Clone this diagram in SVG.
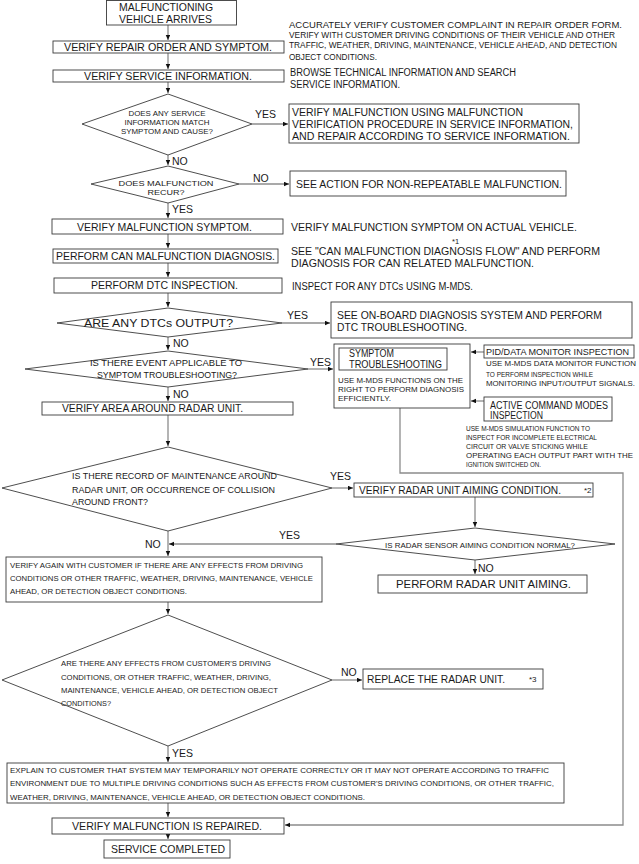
<svg xmlns="http://www.w3.org/2000/svg" width="639" height="864" viewBox="0 0 639 864">
<style>
text{font-family:"Liberation Sans",Arial,sans-serif;fill:#1a1a1a}
.m{font-size:10.5px}
.d{font-size:10px}
.c{font-size:9px}
.c2{font-size:8.2px}
.s{font-size:8px}
.t{font-size:7.5px}
.u{font-size:7px}
.l{font-size:10.5px}
.mid{text-anchor:middle}
rect,polygon{fill:#fff;stroke:#3a3a3a;stroke-width:0.9}
.cn{fill:none;stroke:#8c8c8c;stroke-width:1.3}
</style>
<defs>
<marker id="a" markerUnits="userSpaceOnUse" markerWidth="6" markerHeight="6" refX="5" refY="2.25" orient="auto">
<path d="M0,0 L5,2.25 L0,4.5 z" fill="#111"/>
</marker>
</defs>
<rect x="0" y="0" width="639" height="864" style="fill:#fff;stroke:none"/>

<g id="connectors">
<path class="cn" d="M168,25 V40" marker-end="url(#a)"/>
<path class="cn" d="M168,53 V69" marker-end="url(#a)"/>
<path class="cn" d="M168,82 V93" marker-end="url(#a)"/>
<path class="cn" d="M252,124 H288" marker-end="url(#a)"/>
<path class="cn" d="M168,155 V165" marker-end="url(#a)"/>
<path class="cn" d="M239,184 H289" marker-end="url(#a)"/>
<path class="cn" d="M168,203 V218" marker-end="url(#a)"/>
<path class="cn" d="M168,234 V248" marker-end="url(#a)"/>
<path class="cn" d="M168,263 V277" marker-end="url(#a)"/>
<path class="cn" d="M168,293 V307" marker-end="url(#a)"/>
<path class="cn" d="M282,323 H330" marker-end="url(#a)"/>
<path class="cn" d="M168,337 V350" marker-end="url(#a)"/>
<path class="cn" d="M308,369 H333" marker-end="url(#a)"/>
<path class="cn" d="M484,352 H471" marker-end="url(#a)"/>
<path class="cn" d="M484,401 H471" marker-end="url(#a)"/>
<path class="cn" d="M400,408 V473 H623 V825 H285" marker-end="url(#a)"/>
<path class="cn" d="M168,387 V401" marker-end="url(#a)"/>
<path class="cn" d="M168,415 V446" marker-end="url(#a)"/>
<path class="cn" d="M332,488 H353" marker-end="url(#a)"/>
<path class="cn" d="M475,497 V527" marker-end="url(#a)"/>
<path class="cn" d="M336,544 H169" marker-end="url(#a)"/>
<path class="cn" d="M168,531 V556" marker-end="url(#a)"/>
<path class="cn" d="M475,560 V574" marker-end="url(#a)"/>
<path class="cn" d="M168,602 V614" marker-end="url(#a)"/>
<path class="cn" d="M332,680 H362" marker-end="url(#a)"/>
<path class="cn" d="M168,746 V762" marker-end="url(#a)"/>
<path class="cn" d="M168,803 V817" marker-end="url(#a)"/>
<path class="cn" d="M168,834 V839" marker-end="url(#a)"/>
</g>

<g id="n1"><rect x="106.5" y="0.5" width="130" height="24.5"/>
<text class="m" x="119" y="11.3" textLength="94" lengthAdjust="spacingAndGlyphs">MALFUNCTIONING</text>
<text class="m" x="119" y="22.8" textLength="93" lengthAdjust="spacingAndGlyphs">VEHICLE ARRIVES</text></g>

<g id="n2"><rect x="53" y="41" width="231" height="12"/>
<text class="m" x="64" y="50.8" textLength="208" lengthAdjust="spacingAndGlyphs">VERIFY REPAIR ORDER AND SYMPTOM.</text></g>
<g id="n2d">
<text x="289" y="28.4" style="font-size:9.4px" textLength="333" lengthAdjust="spacingAndGlyphs">ACCURATELY VERIFY CUSTOMER COMPLAINT IN REPAIR ORDER FORM.</text>
<text class="c2" x="289" y="38" textLength="326" lengthAdjust="spacingAndGlyphs">VERIFY WITH CUSTOMER DRIVING CONDITIONS OF THEIR VEHICLE AND OTHER</text>
<text class="c2" x="289" y="48" textLength="328" lengthAdjust="spacingAndGlyphs">TRAFFIC, WEATHER, DRIVING, MAINTENANCE, VEHICLE AHEAD, AND DETECTION</text>
<text class="c2" x="289" y="60" textLength="88" lengthAdjust="spacingAndGlyphs">OBJECT CONDITIONS.</text></g>

<g id="n3"><rect x="53" y="70" width="231" height="12"/>
<text class="m" x="84" y="79.8" textLength="168" lengthAdjust="spacingAndGlyphs">VERIFY SERVICE INFORMATION.</text></g>
<g id="n3d">
<text class="d" x="290" y="75.6" textLength="226" lengthAdjust="spacingAndGlyphs">BROWSE TECHNICAL INFORMATION AND SEARCH</text>
<text class="d" x="290" y="87.6" textLength="110" lengthAdjust="spacingAndGlyphs">SERVICE INFORMATION.</text></g>

<g id="d1"><polygon points="168,94 252,124 168,155 82,124"/>
<text class="s mid" x="167" y="115.9" textLength="77" lengthAdjust="spacingAndGlyphs">DOES ANY SERVICE</text>
<text class="s mid" x="167" y="124.9" textLength="85" lengthAdjust="spacingAndGlyphs">INFORMATION MATCH</text>
<text class="s mid" x="167" y="133.9" textLength="92" lengthAdjust="spacingAndGlyphs">SYMPTOM AND CAUSE?</text></g>

<g id="n4"><rect x="289" y="104" width="290" height="39"/>
<text class="m" x="292" y="115.8" textLength="231" lengthAdjust="spacingAndGlyphs">VERIFY MALFUNCTION USING MALFUNCTION</text>
<text class="m" x="292" y="127.8" textLength="281" lengthAdjust="spacingAndGlyphs">VERIFICATION PROCEDURE IN SERVICE INFORMATION,</text>
<text class="m" x="292" y="139.8" textLength="278" lengthAdjust="spacingAndGlyphs">AND REPAIR ACCORDING TO SERVICE INFORMATION.</text></g>

<g id="d2"><polygon points="168,166 239,184 168,203 91,184"/>
<text class="s mid" x="166" y="185.9" textLength="95" lengthAdjust="spacingAndGlyphs">DOES MALFUNCTION</text>
<text class="s mid" x="166" y="195.4" textLength="37" lengthAdjust="spacingAndGlyphs">RECUR?</text></g>

<g id="n5"><rect x="290" y="171" width="276" height="25"/>
<text class="m" x="296" y="187.8" textLength="266" lengthAdjust="spacingAndGlyphs">SEE ACTION FOR NON-REPEATABLE MALFUNCTION.</text></g>

<g id="n6"><rect x="52" y="219" width="231" height="15"/>
<text class="m" x="77" y="230.8" textLength="175" lengthAdjust="spacingAndGlyphs">VERIFY MALFUNCTION SYMPTOM.</text></g>
<g id="n6d"><text class="m" x="291" y="230.8" textLength="286" lengthAdjust="spacingAndGlyphs">VERIFY MALFUNCTION SYMPTOM ON ACTUAL VEHICLE.</text></g>

<g id="n7"><rect x="53" y="249" width="225" height="14"/>
<text class="m" x="56" y="260.3" textLength="219" lengthAdjust="spacingAndGlyphs">PERFORM CAN MALFUNCTION DIAGNOSIS.</text></g>
<g id="n7d">
<text class="t" x="452" y="243.5">*1</text>
<text class="m" x="291" y="254.8" textLength="309" lengthAdjust="spacingAndGlyphs">SEE "CAN MALFUNCTION DIAGNOSIS FLOW" AND PERFORM</text>
<text class="m" x="291" y="266.8" textLength="243" lengthAdjust="spacingAndGlyphs">DIAGNOSIS FOR CAN RELATED MALFUNCTION.</text></g>

<g id="n8"><rect x="54" y="278" width="228" height="15"/>
<text class="m" x="91" y="288.8" textLength="147" lengthAdjust="spacingAndGlyphs">PERFORM DTC INSPECTION.</text></g>
<g id="n8d"><text class="d" x="292" y="289.6" textLength="181" lengthAdjust="spacingAndGlyphs">INSPECT FOR ANY DTCs USING M-MDS.</text></g>

<g id="d3"><polygon points="168,308 282,323 168,337 57,323"/>
<text class="m" x="84" y="326.8" textLength="149" lengthAdjust="spacingAndGlyphs">ARE ANY DTCs OUTPUT?</text></g>

<g id="n9"><rect x="331" y="302" width="301" height="36"/>
<text class="m" x="337" y="318.8" textLength="265" lengthAdjust="spacingAndGlyphs">SEE ON-BOARD DIAGNOSIS SYSTEM AND PERFORM</text>
<text class="m" x="337" y="330.8" textLength="130" lengthAdjust="spacingAndGlyphs">DTC TROUBLESHOOTING.</text></g>

<g id="d4"><polygon points="168,351 308,369 168,387 25,369"/>
<text class="c mid" x="166" y="366.2" textLength="152" lengthAdjust="spacingAndGlyphs">IS THERE EVENT APPLICABLE TO</text>
<text class="c mid" x="167" y="378.2" textLength="140" lengthAdjust="spacingAndGlyphs">SYMPTOM TROUBLESHOOTING?</text></g>

<g id="n10"><rect x="334" y="344" width="136" height="64"/>
<rect x="339" y="348" width="108" height="22"/>
<text class="d" x="349" y="356.6" textLength="45" lengthAdjust="spacingAndGlyphs">SYMPTOM</text>
<text class="d" x="349" y="367.6" textLength="93" lengthAdjust="spacingAndGlyphs">TROUBLESHOOTING</text>
<text class="t" x="338" y="382.7" textLength="125" lengthAdjust="spacingAndGlyphs">USE M-MDS FUNCTIONS ON THE</text>
<text class="t" x="338" y="391.7" textLength="126" lengthAdjust="spacingAndGlyphs">RIGHT TO PERFORM DIAGNOSIS</text>
<text class="t" x="338" y="400.7" textLength="53" lengthAdjust="spacingAndGlyphs">EFFICIENTLY.</text></g>

<g id="n11"><rect x="484" y="345" width="150" height="13"/>
<text class="c" x="486" y="355.2" textLength="143" lengthAdjust="spacingAndGlyphs">PID/DATA MONITOR INSPECTION</text>
<text class="t" x="486" y="365.7" textLength="150" lengthAdjust="spacingAndGlyphs">USE M-MDS DATA MONITOR FUNCTION</text>
<text class="t" x="486" y="376.7" textLength="107" lengthAdjust="spacingAndGlyphs">TO PERFORM INSPECTION WHILE</text>
<text class="t" x="486" y="385.7" textLength="149" lengthAdjust="spacingAndGlyphs">MONITORING INPUT/OUTPUT SIGNALS.</text></g>

<g id="n12"><rect x="484" y="397" width="128" height="24"/>
<text class="d" x="490" y="408.6" textLength="118" lengthAdjust="spacingAndGlyphs">ACTIVE COMMAND MODES</text>
<text class="d" x="490" y="418.6" textLength="53" lengthAdjust="spacingAndGlyphs">INSPECTION</text>
<text class="t" x="466" y="430.7" textLength="124" lengthAdjust="spacingAndGlyphs">USE M-MDS SIMULATION FUNCTION TO</text>
<text class="t" x="466" y="439.7" textLength="131" lengthAdjust="spacingAndGlyphs">INSPECT FOR INCOMPLETE ELECTRICAL</text>
<text class="t" x="466" y="448.7" textLength="122" lengthAdjust="spacingAndGlyphs">CIRCUIT OR VALVE STICKING WHILE</text>
<text class="t" x="466" y="457.7" textLength="167" lengthAdjust="spacingAndGlyphs">OPERATING EACH OUTPUT PART WITH THE</text>
<text class="t" x="466" y="466.7" textLength="75" lengthAdjust="spacingAndGlyphs">IGNITION SWITCHED ON.</text></g>

<g id="n13"><rect x="42" y="402" width="251" height="13"/>
<text class="m" x="62" y="411.8" textLength="181" lengthAdjust="spacingAndGlyphs">VERIFY AREA AROUND RADAR UNIT.</text></g>

<g id="d5"><polygon points="168,447 332,488 168,531 2,488"/>
<text class="c" x="72" y="479.2" textLength="205" lengthAdjust="spacingAndGlyphs">IS THERE RECORD OF MAINTENANCE AROUND</text>
<text class="c" x="72" y="493.2" textLength="203" lengthAdjust="spacingAndGlyphs">RADAR UNIT, OR OCCURRENCE OF COLLISION</text>
<text class="c" x="72" y="505.2" textLength="76" lengthAdjust="spacingAndGlyphs">AROUND FRONT?</text></g>

<g id="n14"><rect x="354" y="483" width="239" height="14"/>
<text class="m" x="359" y="493.8" textLength="202" lengthAdjust="spacingAndGlyphs">VERIFY RADAR UNIT AIMING CONDITION.</text>
<text class="s" x="584" y="492.9">*2</text></g>

<g id="d6"><polygon points="475,528 615,544 475,560 336,544"/>
<text class="s" x="385" y="547.9" textLength="190" lengthAdjust="spacingAndGlyphs">IS RADAR SENSOR AIMING CONDITION NORMAL?</text></g>

<g id="n15"><rect x="378" y="575" width="209" height="18"/>
<text class="m" x="396" y="587.8" textLength="175" lengthAdjust="spacingAndGlyphs">PERFORM RADAR UNIT AIMING.</text></g>

<g id="n16"><rect x="6" y="557" width="316" height="45"/>
<text class="u" x="10" y="567.5" textLength="293" lengthAdjust="spacingAndGlyphs">VERIFY AGAIN WITH CUSTOMER IF THERE ARE ANY EFFECTS FROM DRIVING</text>
<text class="u" x="10" y="580.5" textLength="303" lengthAdjust="spacingAndGlyphs">CONDITIONS OR OTHER TRAFFIC, WEATHER, DRIVING, MAINTENANCE, VEHICLE</text>
<text class="u" x="10" y="593.5" textLength="177" lengthAdjust="spacingAndGlyphs">AHEAD, OR DETECTION OBJECT CONDITIONS.</text></g>

<g id="d7"><polygon points="168,615 332,680 168,746 2,680"/>
<text class="u" x="61" y="665.5" textLength="210" lengthAdjust="spacingAndGlyphs">ARE THERE ANY EFFECTS FROM CUSTOMER'S DRIVING</text>
<text class="u" x="61" y="679.5" textLength="210" lengthAdjust="spacingAndGlyphs">CONDITIONS, OR OTHER TRAFFIC, WEATHER, DRIVING,</text>
<text class="u" x="61" y="692.5" textLength="217" lengthAdjust="spacingAndGlyphs">MAINTENANCE, VEHICLE AHEAD, OR DETECTION OBJECT</text>
<text class="u" x="61" y="705.5" textLength="50" lengthAdjust="spacingAndGlyphs">CONDITIONS?</text></g>

<g id="n17"><rect x="363" y="669" width="180" height="20"/>
<text class="m" x="367" y="682.8" textLength="138" lengthAdjust="spacingAndGlyphs">REPLACE THE RADAR UNIT.</text>
<text class="s" x="529" y="681.9">*3</text></g>

<g id="n18"><rect x="7" y="763" width="557" height="40"/>
<text class="u" x="10" y="772.5" textLength="539" lengthAdjust="spacingAndGlyphs">EXPLAIN TO CUSTOMER THAT SYSTEM MAY TEMPORARILY NOT OPERATE CORRECTLY OR IT MAY NOT OPERATE ACCORDING TO TRAFFIC</text>
<text class="u" x="10" y="785.5" textLength="544" lengthAdjust="spacingAndGlyphs">ENVIRONMENT DUE TO MULTIPLE DRIVING CONDITIONS SUCH AS EFFECTS FROM CUSTOMER'S DRIVING CONDITIONS, OR OTHER TRAFFIC,</text>
<text class="u" x="10" y="799.5" textLength="355" lengthAdjust="spacingAndGlyphs">WEATHER, DRIVING, MAINTENANCE, VEHICLE AHEAD, OR DETECTION OBJECT CONDITIONS.</text></g>

<g id="n19"><rect x="52" y="818" width="232" height="16"/>
<text class="m" x="72" y="829.8" textLength="190" lengthAdjust="spacingAndGlyphs">VERIFY MALFUNCTION IS REPAIRED.</text></g>

<g id="n20"><rect x="104" y="840" width="126" height="18"/>
<text class="m" x="111" y="852.8" textLength="114" lengthAdjust="spacingAndGlyphs">SERVICE COMPLETED</text></g>

<g id="labels">
<text class="l" x="255" y="117.8">YES</text>
<text class="l" x="172" y="164.8">NO</text>
<text class="l" x="253" y="181.8">NO</text>
<text class="l" x="172" y="212.8">YES</text>
<text class="l" x="287" y="318.8">YES</text>
<text class="l" x="173" y="346.8">NO</text>
<text class="l" x="310" y="365.8">YES</text>
<text class="l" x="173" y="397.8">NO</text>
<text class="l" x="330" y="479.8">YES</text>
<text class="l" x="279" y="538.8">YES</text>
<text class="l" x="145" y="547.8">NO</text>
<text class="l" x="478" y="571.8">NO</text>
<text class="l" x="341" y="675.8">NO</text>
<text class="l" x="172" y="756.8">YES</text>
</g>
</svg>
